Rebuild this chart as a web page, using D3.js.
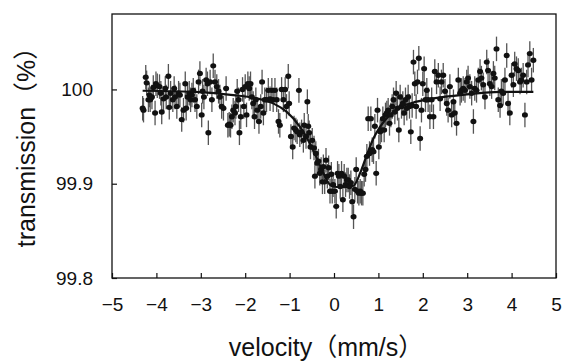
<!DOCTYPE html>
<html>
<head>
<meta charset="utf-8">
<script src="https://cdn.jsdelivr.net/npm/d3@7"></script>
<style>
  body { margin: 0; background: #fff; }
  svg { display: block; }
  text { font-family: "Liberation Sans", Arial, "Noto Sans CJK JP", sans-serif; fill: #111; }
</style>
</head>
<body>
<div id="chart"></div>
<script>
// measured points: velocity (mm/s) and transmission (%)
const velocity = [
  -4.31,-4.29,-4.24,-4.22,-4.18,-4.16,-4.14,-4.10,-4.07,-4.03,-4.01,-3.98,-3.93,-3.90,-3.88,-3.84,-3.80,-3.78,-3.73,-3.71,
  -3.68,-3.63,-3.60,-3.58,-3.54,-3.50,-3.47,-3.43,-3.39,-3.35,-3.33,-3.30,-3.26,-3.23,-3.20,-3.17,-3.13,-3.09,-3.05,-3.02,
  -2.98,-2.96,-2.93,-2.88,-2.85,-2.83,-2.79,-2.75,-2.72,-2.68,-2.64,-2.60,-2.57,-2.53,-2.49,-2.43,-2.39,-2.36,-2.33,-2.30,
  -2.27,-2.23,-2.21,-2.18,-2.15,-2.13,-2.10,-2.06,-2.03,-2.00,-1.97,-1.94,-1.91,-1.88,-1.85,-1.82,-1.79,-1.76,-1.73,-1.69,
  -1.65,-1.62,-1.59,-1.56,-1.52,-1.48,-1.44,-1.40,-1.37,-1.33,-1.29,-1.25,-1.22,-1.18,-1.14,-1.10,-1.07,-1.03,-1.01,
  -0.97,-0.93,-0.90,-0.86,-0.83,-0.79,-0.77,-0.73,-0.69,-0.67,-0.63,-0.60,-0.58,-0.56,-0.53,-0.49,-0.45,-0.43,-0.41,-0.38,
  -0.35,-0.32,-0.29,-0.26,-0.24,-0.21,-0.18,-0.15,-0.12,-0.09,-0.06,-0.04,-0.02,0.02,0.05,0.08,0.11,0.14,0.17,0.20,
  0.23,0.26,0.29,0.32,0.35,0.38,0.41,0.44,0.47,0.50,0.53,0.56,0.59,0.62,0.65,0.68,0.71,0.74,0.77,0.80,
  0.83,0.86,0.89,0.92,0.95,0.98,
  1.01,1.04,1.07,1.10,1.13,1.16,1.19,1.22,1.25,1.28,1.31,1.34,1.37,1.40,1.43,1.46,1.49,1.52,1.55,1.58,
  1.61,1.64,1.67,1.70,1.73,1.76,1.79,1.82,1.85,1.88,1.91,1.94,1.97,2.00,2.03,2.06,2.09,2.12,2.16,2.20,
  2.24,2.27,2.31,2.35,2.39,2.42,2.46,2.50,2.54,2.57,2.61,2.65,2.69,2.72,2.76,2.80,2.84,2.87,2.91,2.95,
  2.99,3.02,3.06,3.10,3.14,3.17,3.21,3.25,3.29,3.32,3.36,3.40,3.44,3.47,3.51,3.55,3.59,3.62,3.66,3.70,
  3.74,3.77,3.81,3.85,3.89,3.92,3.96,4.00,4.04,4.07,4.11,4.15,4.19,4.22,4.26,4.30,4.34,4.37,4.41,4.45,4.49
];
const transmission = [
  99.980,99.978,100.013,100.007,99.989,99.994,99.989,99.992,100.002,99.975,100.006,100.004,100.003,99.996,99.976,99.990,100.001,99.992,100.014,99.981,
  99.996,99.989,100.001,99.992,99.982,99.996,99.994,99.968,99.978,100.006,99.980,99.992,99.996,99.989,99.994,99.999,99.989,99.982,100.008,100.017,
  99.973,99.998,99.992,100.010,100.006,99.954,100.008,99.989,100.025,100.008,100.003,99.998,99.992,99.982,99.980,100.001,99.962,99.963,99.962,99.971,
  99.978,99.975,99.982,99.998,99.989,99.954,99.971,100.000,99.982,100.003,99.973,100.006,100.001,100.006,99.992,99.985,99.971,99.989,99.978,99.966,
  99.982,100.008,99.975,99.989,99.989,99.999,99.990,99.999,99.989,99.999,99.989,99.966,99.962,100.000,99.989,100.000,99.982,100.014,99.985,
  99.950,99.939,99.959,99.957,99.955,99.999,99.952,99.955,99.946,99.962,99.950,99.987,99.961,99.954,99.939,99.946,99.938,99.908,99.932,99.922,
  99.924,99.911,99.915,99.902,99.918,99.902,99.925,99.908,99.917,99.892,99.910,99.892,99.899,99.892,99.876,99.911,99.908,99.897,99.911,99.883,
  99.908,99.899,99.904,99.904,99.897,99.901,99.881,99.865,99.894,99.915,99.892,99.890,99.892,99.890,99.890,99.910,99.915,99.929,99.969,99.932,
  99.969,99.936,99.934,99.961,99.911,99.978,
  99.939,99.955,99.957,99.969,99.957,99.973,99.975,99.978,99.964,99.973,99.982,99.989,99.976,99.996,99.980,99.957,99.992,99.982,99.985,99.975,
  99.989,99.980,99.992,99.982,99.955,99.983,100.029,100.006,99.982,100.008,100.033,99.948,99.978,100.006,100.022,99.989,99.999,99.989,99.971,99.989,
  99.971,100.019,100.008,100.015,99.990,100.008,100.015,99.998,99.985,99.978,100.003,99.973,99.987,99.975,99.964,100.010,99.996,99.999,100.001,99.999,
  100.008,100.012,100.003,99.996,99.966,100.001,99.999,100.010,100.019,100.012,100.005,99.992,100.029,100.020,100.006,100.003,100.017,100.012,100.043,99.989,
  99.983,99.998,99.996,100.010,100.036,99.985,99.975,100.015,100.005,100.027,100.022,100.020,100.008,100.010,100.015,99.973,100.008,100.026,100.038,100.010,100.031
];
const errorBar = 0.013;

// fitted curve
const fitVelocity = [-4.31,-3.02,-2.27,-1.74,-1.37,-1.07,-0.77,-0.47,-0.24,-0.09,0.06,0.29,0.44,0.59,0.74,0.89,1.04,1.26,1.49,1.86,2.24,2.99,3.74,4.49];
const fitTransmission = [99.9986,99.9972,99.9940,99.9905,99.9852,99.9764,99.9606,99.9359,99.9113,99.8989,99.8965,99.8965,99.8979,99.9113,99.9306,99.9482,99.9606,99.9729,99.9810,99.9870,99.9905,99.9947,99.9975,99.9975];

const xTicks = [-5, -4, -3, -2, -1, 0, 1, 2, 3, 4, 5];
const yTicks = [99.8, 99.9, 100];
const yTickLabels = ["99.8", "99.9", "100"];
const xTitle = "velocity\uFF08mm/s\uFF09";
const yTitle = "transmission\uFF08%\uFF09";

const W = 563, H = 361;
const m = { left: 112, right: 7, top: 14, bottom: 83 };
const iw = W - m.left - m.right, ih = H - m.top - m.bottom;

const svg = d3.select("#chart").append("svg")
  .attr("width", W).attr("height", H);

const x = d3.scaleLinear().domain([-5, 5]).range([0, iw]);
const y = d3.scaleLinear().domain([99.8, 100.08]).range([ih, 0]);

const g = svg.append("g").attr("transform", `translate(${m.left},${m.top})`);

// x axis, ticks pointing in
const xAxis = g.append("g")
  .attr("transform", `translate(0,${ih})`)
  .call(d3.axisBottom(x).tickValues(xTicks).tickSizeInner(-5).tickSizeOuter(0).tickPadding(20));
xAxis.select(".domain").remove();
xAxis.selectAll("line").attr("stroke", "#111").attr("stroke-width", 1.2);
xAxis.selectAll("text").attr("font-size", 19).attr("fill", "#111");

const yAxis = g.append("g")
  .call(d3.axisLeft(y).tickValues(yTicks).tickFormat((d, i) => yTickLabels[i])
    .tickSizeInner(-5).tickSizeOuter(0).tickPadding(19));
yAxis.select(".domain").remove();
yAxis.selectAll("line").attr("stroke", "#111").attr("stroke-width", 1.2);
yAxis.selectAll("text").attr("font-size", 19).attr("fill", "#111");

// frame
g.append("rect")
  .attr("width", iw).attr("height", ih)
  .attr("fill", "none").attr("stroke", "#111").attr("stroke-width", 1.3);

const pts = velocity.map((v, i) => ({ v: v, t: transmission[i] }));

// error bars
g.append("g").selectAll("line")
  .data(pts).enter().append("line")
  .attr("x1", d => x(d.v)).attr("x2", d => x(d.v))
  .attr("y1", d => y(d.t - errorBar)).attr("y2", d => y(d.t + errorBar))
  .attr("stroke", "#555").attr("stroke-width", 1.3);

// fit line
const fit = fitVelocity.map((v, i) => [v, fitTransmission[i]]);
g.append("path")
  .datum(fit)
  .attr("fill", "none").attr("stroke", "#111").attr("stroke-width", 2.2)
  .attr("d", d3.line().x(d => x(d[0])).y(d => y(d[1])).curve(d3.curveMonotoneX));

// points
g.append("g").selectAll("ellipse")
  .data(pts).enter().append("ellipse")
  .attr("cx", d => x(d.v)).attr("cy", d => y(d.t))
  .attr("rx", 3).attr("ry", 2.7)
  .attr("fill", "#111");

// titles
svg.append("text")
  .attr("x", 326).attr("y", 356)
  .attr("text-anchor", "middle").attr("font-size", 25)
  .text(xTitle);

svg.append("text")
  .attr("transform", "translate(35,141) rotate(-90)")
  .attr("text-anchor", "middle").attr("font-size", 25)
  .text(yTitle);
</script>
</body>
</html>
